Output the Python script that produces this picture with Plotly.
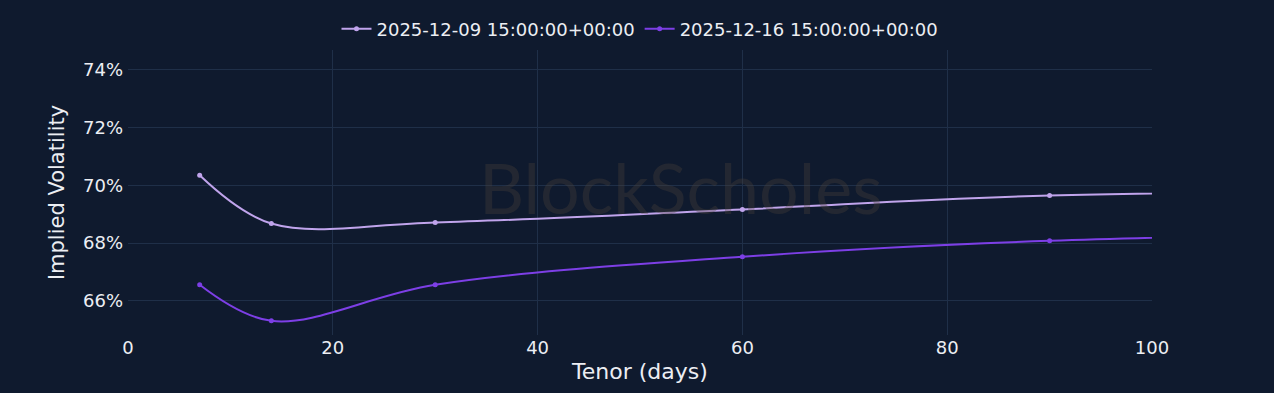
import plotly.graph_objects as go

tenor = [7, 14, 30, 60, 90, 180]
iv_1209 = [0.7035, 0.6868, 0.6872, 0.6917, 0.6965, 0.6990]
iv_1216 = [0.6656, 0.6531, 0.6656, 0.6753, 0.6808, 0.6870]
names = ["2025-12-09 15:00:00+00:00", "2025-12-16 15:00:00+00:00"]
y_ticks = [0.66, 0.68, 0.70, 0.72, 0.74]
x_ticks = [0, 20, 40, 60, 80, 100]

font_family = "DejaVu Sans"
bg = "#0f1a2e"
grid = "#1f2f48"

fig = go.Figure()
fig.add_trace(go.Scatter(
    x=tenor, y=iv_1209, name=names[0], mode="lines+markers",
    line=dict(color="#c0a4ec", width=2, shape="spline"),
    marker=dict(size=5, color="#c0a4ec")))
fig.add_trace(go.Scatter(
    x=tenor, y=iv_1216, name=names[1], mode="lines+markers",
    line=dict(color="#7d3fe6", width=2, shape="spline"),
    marker=dict(size=5, color="#7d3fe6")))

fig.add_annotation(
    text="BlockScholes", x=0.54, y=0.52, xref="paper", yref="paper",
    showarrow=False, font=dict(family="Lato", size=70, color="rgba(75,66,58,0.35)"))

fig.update_layout(
    width=1274, height=393,
    paper_bgcolor=bg, plot_bgcolor=bg,
    margin=dict(l=128, r=122, t=50, b=58, autoexpand=False),
    font=dict(family=font_family, color="#eceef3", size=18),
    legend=dict(orientation="h", x=0.5, xanchor="center", yref="container",
                y=0.926, yanchor="middle",
                font=dict(size=18), bgcolor="rgba(0,0,0,0)"),
    showlegend=True,
)
fig.update_xaxes(
    range=[0, 100], tickvals=x_ticks, showgrid=True, gridcolor=grid, zeroline=False,
    title=dict(text="Tenor (days)", font=dict(size=22), standoff=6),
    tickfont=dict(size=18), showline=False, automargin=False)
fig.update_yaxes(
    range=[0.6482, 0.7469], tickvals=y_ticks, tickformat=".0%", showgrid=True,
    gridcolor=grid, zeroline=False,
    title=dict(text="Implied Volatility", font=dict(size=21), standoff=12),
    tickfont=dict(size=18), ticklabelstandoff=4, showline=False, automargin=False)

fig.write_html("out.html")
